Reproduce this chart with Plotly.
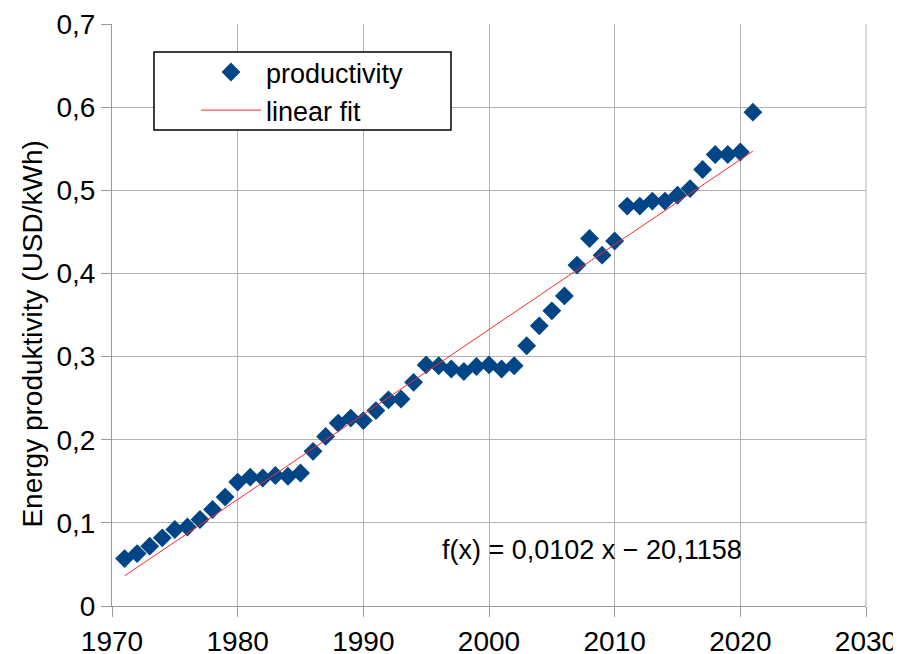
import numpy as np
import plotly.graph_objects as go

years = list(range(1971, 2022))
productivity = [
    0.057, 0.063, 0.072, 0.082, 0.092, 0.095, 0.104, 0.116, 0.131, 0.149,
    0.155, 0.154, 0.157, 0.156, 0.160, 0.186, 0.204, 0.220, 0.226, 0.223,
    0.235, 0.248, 0.249, 0.269, 0.290, 0.289, 0.285, 0.282, 0.288, 0.290,
    0.285, 0.289, 0.313, 0.337, 0.355, 0.373, 0.410, 0.442, 0.422, 0.439,
    0.481, 0.481, 0.487, 0.487, 0.494, 0.502, 0.525, 0.543, 0.543, 0.546,
    0.594,
]
x_ticks = [1970, 1980, 1990, 2000, 2010, 2020, 2030]
y_ticks = [0, 0.1, 0.2, 0.3, 0.4, 0.5, 0.6, 0.7]
fit_label = "f(x) = 0,0102 x − 20,1158"
y_title = "Energy produktivity (USD/kWh)"

slope, intercept = np.polyfit(years, productivity, 1)
fit_x = [years[0], years[-1]]
fit_y = [slope * v + intercept for v in fit_x]

FONT = "Liberation Sans, Arial, sans-serif"
GRID = "#b3b3b3"

fig = go.Figure()
fig.add_trace(go.Scatter(
    x=years, y=productivity, mode="markers", name="productivity",
    marker=dict(symbol="diamond", size=14.5, color="#004586", line=dict(width=0)),
))
fig.add_trace(go.Scatter(
    x=fit_x, y=fit_y, mode="lines", name="linear fit",
    line=dict(color="#ff2a2a", width=1),
))

fig.add_annotation(
    x=1996.1, y=0.0675, xref="x", yref="y", text=fit_label, showarrow=False,
    xanchor="left", yanchor="middle", font=dict(size=27, color="black", family=FONT),
)
fig.add_annotation(
    x=-0.106, y=0.4665, xref="paper", yref="paper", text=y_title, showarrow=False,
    textangle=-90, xanchor="center", yanchor="middle",
    font=dict(size=28, color="black", family=FONT),
)

# right-hand frame line (gridline at 2030)
fig.add_shape(
    type="line", xref="paper", yref="paper", x0=1, x1=1, y0=0, y1=1,
    line=dict(color=GRID, width=1), layer="below",
)

# legend frame
fig.add_shape(
    type="rect", xref="paper", yref="paper",
    x0=0.0557, x1=0.4496, y0=0.8179, y1=0.9519,
    line=dict(color="black", width=1.5), fillcolor="white", layer="above",
)

# page body has an 8px margin, so the figure is sized to end at the window edge
fig.update_layout(
    width=893, height=646,
    margin=dict(l=104, r=35, t=16, b=48, autoexpand=False),
    paper_bgcolor="white", plot_bgcolor="white",
    separators=", ",
    font=dict(family=FONT, size=27, color="black"),
    showlegend=True,
    legend=dict(
        x=0.1114, y=0.9588, xanchor="left", yanchor="top",
        borderwidth=0, bgcolor="rgba(0,0,0,0)",
        font=dict(size=27), tracegroupgap=0,
        itemwidth=60,
    ),
    xaxis=dict(
        range=[1970, 2030], tickvals=x_ticks, showgrid=True, gridcolor=GRID, gridwidth=1,
        showline=True, linecolor="#999999", linewidth=1, automargin=False,
        ticks="outside", ticklen=10, tickcolor="#999999", zeroline=False,
        tickfont=dict(size=28),
    ),
    yaxis=dict(
        range=[0, 0.7], tickvals=y_ticks, showgrid=True, gridcolor=GRID, gridwidth=1,
        showline=True, linecolor="#999999", linewidth=1, automargin=False,
        ticks="outside", ticklen=10, tickcolor="#999999", zeroline=False,
        tickfont=dict(size=28),
    ),
)

fig.write_html("out.html")
